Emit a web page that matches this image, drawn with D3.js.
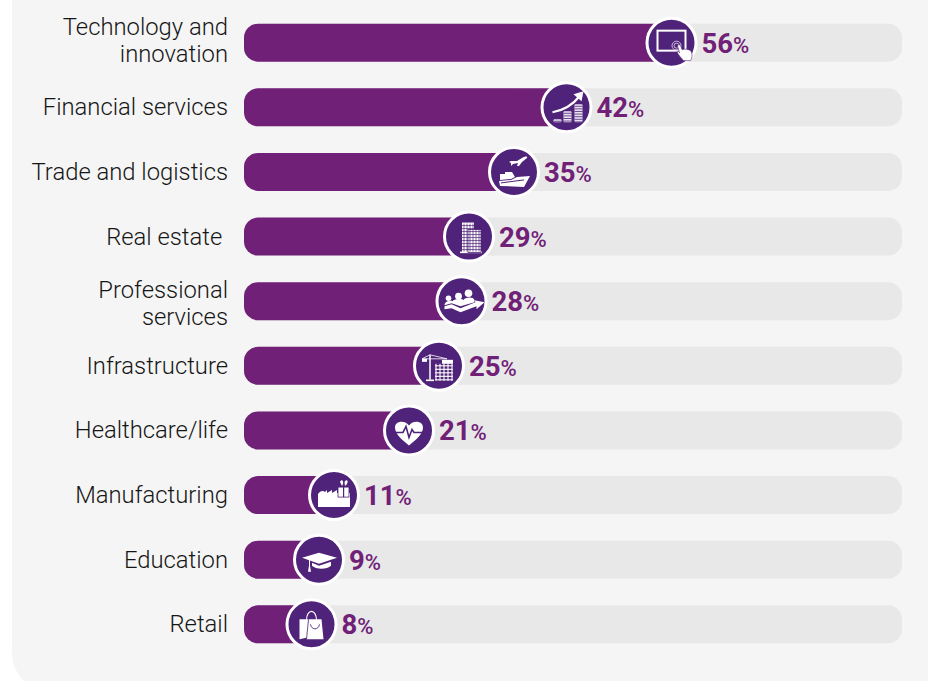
<!DOCTYPE html>
<html>
<head>
<meta charset="utf-8">
<script src="https://cdn.jsdelivr.net/npm/d3@7/dist/d3.min.js"></script>
<style>
html,body{margin:0;padding:0;background:#fff;}
svg{display:block;}
</style>
</head>
<body>
<svg id="chart" width="928" height="681"></svg>
<script>
const sectors = [["Technology and","innovation"],["Financial services"],["Trade and logistics"],["Real estate "],["Professional","services"],["Infrastructure"],["Healthcare/life"],["Manufacturing"],["Education"],["Retail"]];
const shares = [56,42,35,29,28,25,21,11,9,8];
const iconNames = ["tablet","coins","trade","building","people","crane","heart","factory","cap","bag"];

const width = 928, height = 681;
const svg = d3.select("#chart");
const BADGE = "#4f2379", BAR = "#702076";

// Panel behind the chart, with a wide rounded lower-left corner
svg.append("path").attr("fill","#f5f5f5")
  .attr("d",`M12,0H${width}V${height+11}H51A39,39 0 0 1 12,${height-28}Z`);

const y = d3.scaleBand().domain(d3.range(sectors.length)).range([10.5,656.5]).paddingInner(0.405).paddingOuter(0.2);
const x = d3.scaleLinear().domain([0,100]).range([251.5,1001.5]);
const trackLeft = 244, trackRight = 902, barH = 38, barR = 14;
const rowY = i => y(i)+y.bandwidth()/2;

const rows = svg.selectAll("g.row").data(shares).join("g").attr("class","row")
  .attr("transform",(d,i)=>`translate(0,${rowY(i)})`);

rows.append("rect").attr("x",trackLeft).attr("y",-barH/2).attr("width",trackRight-trackLeft).attr("height",barH)
  .attr("rx",barR).attr("fill","#e8e8e8");

rows.append("path").attr("fill",BAR)
  .attr("d",d=>`M${x(d)},${-barH/2}H${trackLeft+barR}a${barR},${barR} 0 0 0 -${barR},${barR}V${barH/2-barR}a${barR},${barR} 0 0 0 ${barR},${barR}H${x(d)}Z`);

// Sector names, right aligned against the bars; the two wrapped names sit off-centre
const wrapShift = {0:-2.5, 4:2.5};
rows.append("text")
  .attr("text-anchor","end").attr("fill","#161616")
  .style("font-family","Roboto, sans-serif").style("font-weight",300).style("font-size","23.8px")
  .style("white-space","pre")
  .each(function(d,i){
    const lines = sectors[i];
    d3.select(this).selectAll("tspan").data(lines).join("tspan")
      .attr("x",228)
      .attr("y",(l,k)=>(k-(lines.length-1)/2)*27+8+(wrapShift[i]||0))
      .text(l=>l);
  });

// Value labels: large digits with a smaller percent sign
const valueLabels = rows.append("text")
  .attr("x",d=>x(d)+30).attr("y",10)
  .attr("fill",BAR)
  .style("font-family","Roboto, sans-serif");
valueLabels.append("tspan").style("font-weight",700).style("font-size","27.5px").text(d=>d);
valueLabels.append("tspan").style("font-weight",500).style("font-size","22px").text("%");

const solid = (g,d,fill="#fff") => g.append("path").attr("fill",fill).attr("d",d);
const outline = (g,d,color="#fff",w=1) => g.append("path").attr("fill","none").attr("stroke",color).attr("stroke-width",w).attr("d",d);

// Icon glyphs drawn around the origin of each badge
const icons = {
  tablet(g){
    g.append("rect").attr("x",-14).attr("y",-12).attr("width",28).attr("height",20).attr("fill","none").attr("stroke","#fff").attr("stroke-width",2);
    g.append("circle").attr("cx",5).attr("cy",3).attr("r",4.5).attr("fill","none").attr("stroke","#d9cde3").attr("stroke-width",0.9);
    g.append("circle").attr("cx",5).attr("cy",3).attr("r",2.5).attr("fill","none").attr("stroke","#d9cde3").attr("stroke-width",0.9);
    solid(g,"M6,3C7,1.5 9,2 9.5,4L10.5,7C13,6 17,6.5 19,8C21,10 21,15 19,18H12C10,15 7,13 5.5,9C6.5,8 7.5,9 8,10Z").attr("stroke",BADGE).attr("stroke-width",0.6);
  },
  coins(g){
    outline(g,"M-14,5C-3,3 6,-2 13,-11","#fff",2.2);
    solid(g,"M7,-13L17,-16L15,-6Z");
    [[-9,15,8,3],[1,15,8,11],[12,15,8,18]].forEach(([cx,b,w,h])=>{
      g.append("rect").attr("x",cx-w/2).attr("y",b-h).attr("width",w).attr("height",h).attr("rx",1).attr("fill","#e9e1ef");
      d3.range(b-h+2,b,2.6).forEach(v=>g.append("line").attr("x1",cx-w/2).attr("x2",cx+w/2).attr("y1",v).attr("y2",v).attr("stroke",BADGE).attr("stroke-width",0.8));
    });
  },
  trade(g){
    solid(g,"M-3,-11L3,-11L8,-14C11,-16 14,-16 13,-14L8,-10L5,-6H3L4,-9L-1,-8L-3,-6L-3,-9L-5,-10Z");
    solid(g,"M-14,14L-15,9L-3,8L3,5L16,4L10,15Z");
    solid(g,"M-14,8V2H-9V0H-2L1,5L-3,7Z");
    outline(g,"M-13,11L10,8",BADGE,1);
  },
  building(g){
    g.append("rect").attr("x",-9).attr("y",15).attr("width",22).attr("height",1.6).attr("fill","#fff");
    g.append("rect").attr("x",-7).attr("y",-14).attr("width",12).attr("height",30).attr("fill","#fff");
    g.append("rect").attr("x",-1).attr("y",-7).attr("width",13).attr("height",23).attr("fill","#fff").attr("stroke",BADGE).attr("stroke-width",0.8);
    d3.range(-5,12,3).forEach(v=>g.append("line").attr("x1",v).attr("x2",v).attr("y1",-13).attr("y2",15).attr("stroke",BADGE).attr("stroke-width",0.7));
    d3.range(-11,15,3).forEach(v=>g.append("line").attr("x1",-7).attr("x2",12).attr("y1",v).attr("y2",v).attr("stroke",BADGE).attr("stroke-width",0.7));
  },
  people(g){
    [[-13,-3,2.8],[-3,-5,3.4],[7,-8,3.8]].forEach(([cx,cy,r])=>{
      g.append("circle").attr("cx",cx).attr("cy",cy).attr("r",r).attr("fill","#fff");
    });
    solid(g,"M-17,4C-17,0 -11,-1 -9,0C-8,-2 1,-3 2,-1C3,-4 12,-5 13,-1V1L-1,5L-10,2Z");
    solid(g,"M-17,5L-10,3L-1,7L14,1L13,-1L23,1L15,8L15,5L-1,11L-10,7L-17,8Z");
  },
  crane(g){
    g.append("g").attr("stroke","#fff").attr("stroke-width",0.8).call(a=>{
      a.append("line").attr("x1",-9).attr("x2",-9).attr("y1",-11).attr("y2",14).attr("stroke-width",1.5);
      a.append("line").attr("x1",-17).attr("x2",8).attr("y1",-7).attr("y2",-7);
      a.append("line").attr("x1",-17).attr("x2",-9).attr("y1",-7).attr("y2",-11);
      a.append("line").attr("x1",8).attr("x2",-9).attr("y1",-7).attr("y2",-11);
      a.append("line").attr("x1",-13).attr("x2",-5).attr("y1",14.5).attr("y2",14.5).attr("stroke-width",1.6);
    });
    g.append("rect").attr("x",-17).attr("y",-7).attr("width",5).attr("height",3).attr("fill","#fff");
    const grid = g.append("g").attr("stroke","#fff").attr("stroke-width",1.1);
    d3.range(-3,15,4).forEach(v=>grid.append("line").attr("x1",v).attr("x2",v).attr("y1",-2).attr("y2",15));
    d3.range(0,15,3.5).forEach(v=>grid.append("line").attr("x1",-4).attr("x2",14).attr("y1",v).attr("y2",v));
    solid(g,"M3,-6H14V-2H3Z");
  },
  heart(g){
    solid(g,"M0,15C-6,10 -14,4 -14,-3C-14,-9 -5,-11 0,-5C5,-11 14,-9 14,-3C14,4 6,10 0,15Z");
    outline(g,"M-15,2H-6L-3,-4L0,7L3,-1L5,2H15",BADGE,1.6);
  },
  factory(g){
    solid(g,"M-16,12V-1C-14,-4 -11,-5 -9,-3L-7,-5V-2L-2,-5V-2L3,-5V-2H16V12Z");
    g.append("rect").attr("x",4).attr("y",-8).attr("width",11).attr("height",10).attr("fill","#fff").attr("stroke",BADGE).attr("stroke-width",0.8);
    g.append("rect").attr("x",9).attr("y",-8).attr("width",1.2).attr("height",10).attr("fill",BADGE);
    solid(g,"M6,-13C7,-16 10,-15 9,-11L8,-9ZM10.5,-13C12,-16 15,-15 13,-11L11,-9Z");
  },
  cap(g){
    solid(g,"M-17,-2L0,-7L18,-2L0,4Z");
    solid(g,"M-7,3L0,6L12,2V6C8,10 -3,10 -7,6Z");
    solid(g,"M-10,0H-9V6L-8,12H-11L-10,6Z");
  },
  bag(g){
    outline(g,"M-5,-4C-5,-16 5,-16 5,-4","#fff",1.1);
    solid(g,"M-12,-5H-3V13L-12,15Z");
    solid(g,"M-3,-5H10L12,15H-5Z");
    outline(g,"M-1,0C0,6 7,6 8,0",BADGE,0.9);
    outline(g,"M-3,-5L-5,15",BADGE,0.8);
  }
};

// Badges sit on the end of each filled bar
const badges = rows.append("g").attr("transform",d=>`translate(${x(d)},0)`);
badges.append("circle").attr("r",24.5).attr("fill",BADGE).attr("stroke","#fff").attr("stroke-width",3);
badges.each(function(d,i){ icons[iconNames[i]](d3.select(this).append("g")); });
</script>
</body>
</html>
